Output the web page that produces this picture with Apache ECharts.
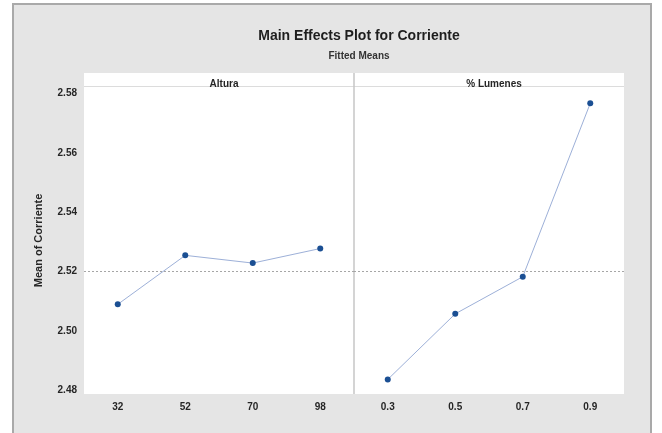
<!DOCTYPE html>
<html>
<head>
<meta charset="utf-8">
<script src="https://cdn.jsdelivr.net/npm/echarts@6/dist/echarts.min.js"></script>
<style>
  html, body { margin: 0; padding: 0; background: #fff; }
  #chart { width: 662px; height: 433px; }
</style>
</head>
<body>
<div id="chart"></div>
<script>
var chart = echarts.init(document.getElementById('chart'));

// values
var alturaLevels = ['32', '52', '70', '98'];
var alturaMeans = [2.509, 2.5255, 2.5229, 2.5278];
var lumenLevels = ['0.3', '0.5', '0.7', '0.9'];
var lumenMeans = [2.4837, 2.5058, 2.5183, 2.5767];
var grandMean = 2.5212;
var yTicks = [2.48, 2.50, 2.52, 2.54, 2.56, 2.58];

var font = 'Liberation Sans';
var txt = '#262626';
var lineCol = '#9db0d8';
var dotCol = '#1b4f93';

function meanLine() {
    return {
        silent: true,
        symbol: 'none',
        label: { show: false },
        lineStyle: { color: '#a6a6a6', type: [2, 2], width: 1 },
        data: [{ yAxis: grandMean }]
    };
}

function yAxisFor(idx, showLabels) {
    return {
        type: 'value',
        gridIndex: idx,
        min: 2.4788,
        max: 2.5822,
        splitLine: { show: false },
        axisLine: { show: false },
        axisTick: { show: false },
        name: showLabels ? 'Mean of Corriente' : '',
        nameLocation: 'middle',
        nameGap: 40,
        nameTextStyle: { fontFamily: font, fontWeight: 'bold', fontSize: 11, color: txt },
        axisLabel: {
            show: showLabels,
            customValues: yTicks,
            formatter: function (v) { return v.toFixed(2); },
            margin: 7,
            fontFamily: font,
            fontWeight: 'bold',
            fontSize: 10,
            color: txt
        }
    };
}

function xAxisFor(idx, cats) {
    return {
        type: 'category',
        gridIndex: idx,
        data: cats,
        axisLine: { show: false },
        axisTick: { show: false },
        axisLabel: { margin: 8, fontFamily: font, fontWeight: 'bold', fontSize: 10, color: txt }
    };
}

option = {
    backgroundColor: '#fff',
    animation: false,
    graphic: [
        {
            type: 'rect', z: -10,
            shape: { x: 13, y: 4, width: 638, height: 440 },
            style: { fill: '#e5e5e5', stroke: '#a9a9a9', lineWidth: 2 }
        },
        {
            type: 'rect', z: -5,
            shape: { x: 84, y: 73, width: 540, height: 13 },
            style: { fill: '#fff' }
        },
        {
            type: 'line', z: 5,
            shape: { x1: 84, y1: 86.5, x2: 624, y2: 86.5 },
            style: { stroke: '#dcdcdc', lineWidth: 1 }
        },
        {
            type: 'line', z: 5,
            shape: { x1: 354, y1: 73, x2: 354, y2: 394 },
            style: { stroke: '#c6c6c6', lineWidth: 1.5 }
        }
    ],
    title: [
        {
            text: 'Main Effects Plot for Corriente',
            left: 354, top: 24, textAlign: 'center',
            textStyle: { fontFamily: font, fontWeight: 'bold', fontSize: 14, color: '#1e1e1e' }
        },
        {
            text: 'Fitted Means',
            left: 354, top: 46, textAlign: 'center',
            textStyle: { fontFamily: font, fontWeight: 'bold', fontSize: 10, color: '#333' }
        },
        {
            text: 'Altura',
            left: 219, top: 74, textAlign: 'center',
            textStyle: { fontFamily: font, fontWeight: 'bold', fontSize: 10, color: txt }
        },
        {
            text: '% Lumenes',
            left: 489, top: 74, textAlign: 'center',
            textStyle: { fontFamily: font, fontWeight: 'bold', fontSize: 10, color: txt }
        }
    ],
    grid: [
        { left: 84, top: 87, width: 270, height: 307, show: true, backgroundColor: '#fff', borderWidth: 0 },
        { left: 354, top: 87, width: 270, height: 307, show: true, backgroundColor: '#fff', borderWidth: 0 }
    ],
    xAxis: [xAxisFor(0, alturaLevels), xAxisFor(1, lumenLevels)],
    yAxis: [yAxisFor(0, true), yAxisFor(1, false)],
    series: [
        {
            name: 'Altura',
            type: 'line',
            xAxisIndex: 0,
            yAxisIndex: 0,
            data: alturaMeans,
            symbol: 'circle',
            symbolSize: 6,
            itemStyle: { color: dotCol },
            lineStyle: { color: lineCol, width: 1 },
            markLine: meanLine()
        },
        {
            name: '% Lumenes',
            type: 'line',
            xAxisIndex: 1,
            yAxisIndex: 1,
            data: lumenMeans,
            symbol: 'circle',
            symbolSize: 6,
            itemStyle: { color: dotCol },
            lineStyle: { color: lineCol, width: 1 },
            markLine: meanLine()
        }
    ]
};

chart.setOption(option);
</script>
</body>
</html>
